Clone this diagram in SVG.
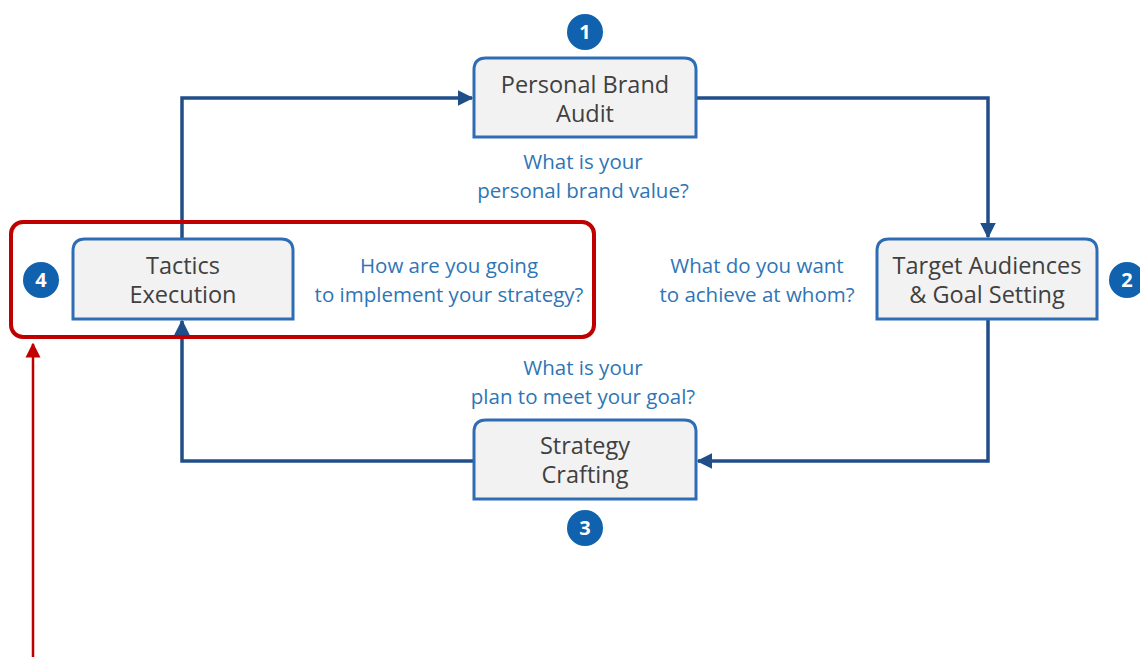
<svg xmlns="http://www.w3.org/2000/svg" width="1140" height="657" viewBox="0 0 1140 657">
<defs>
<style>
.box{fill:#f2f2f2;stroke:#2e6db4;stroke-width:3}
.bt{font-family:"Open Sans","Liberation Sans",sans-serif;font-size:23.5px;fill:#404040;text-anchor:middle}
.q{font-family:"Open Sans","Liberation Sans",sans-serif;font-size:20.5px;fill:#2e75b6;text-anchor:middle}
.num{fill:#1061ae}
.nt{font-family:"Open Sans","Liberation Sans",sans-serif;font-size:20px;font-weight:bold;fill:#ffffff;text-anchor:middle}
.conn{fill:none;stroke:#1f4e89;stroke-width:3.5}
</style>
<marker id="ah" viewBox="0 0 10 10" refX="9" refY="5" markerWidth="4.5" markerHeight="4.5" markerUnits="strokeWidth" orient="auto">
<path d="M0,0 L10,5 L0,10 z" fill="#1f4e89"/>
</marker>
<marker id="rh" viewBox="0 0 10 10" refX="9" refY="5" markerWidth="6" markerHeight="7" markerUnits="strokeWidth" orient="auto">
<path d="M0,0 L10,5 L0,10 z" fill="#c00000"/>
</marker>
</defs>
<rect width="1140" height="657" fill="#ffffff"/>
<g id="connectors">
<path class="conn" d="M182,239 V98 H472" marker-end="url(#ah)"/>
<path class="conn" d="M696,98 H988 V237" marker-end="url(#ah)"/>
<path class="conn" d="M988,319 V461 H698" marker-end="url(#ah)"/>
<path class="conn" d="M474,461 H182 V321" marker-end="url(#ah)"/>
</g>
<g id="node1">
<path class="box" d="M474,137 V70 Q474,58 486,58 H684 Q696,58 696,70 V137 Z"/>
<text class="bt" x="585" y="93">Personal Brand</text>
<text class="bt" x="585" y="122">Audit</text>
<circle class="num" cx="585" cy="32" r="18"/>
<text class="nt" x="585" y="39">1</text>
<text class="q" x="583" y="169">What is your</text>
<text class="q" x="583" y="198">personal brand value?</text>
</g>
<g id="node2">
<path class="box" d="M877,319 V251 Q877,239 889,239 H1085 Q1097,239 1097,251 V319 Z"/>
<text class="bt" x="987" y="274">Target Audiences</text>
<text class="bt" x="987" y="303">&amp; Goal Setting</text>
<circle class="num" cx="1127" cy="280" r="18"/>
<text class="nt" x="1127" y="287">2</text>
<text class="q" x="757" y="273">What do you want</text>
<text class="q" x="757" y="302">to achieve at whom?</text>
</g>
<g id="node3">
<path class="box" d="M474,499 V432 Q474,420 486,420 H684 Q696,420 696,432 V499 Z"/>
<text class="bt" x="585" y="454">Strategy</text>
<text class="bt" x="585" y="483">Crafting</text>
<circle class="num" cx="585" cy="528" r="18"/>
<text class="nt" x="585" y="535">3</text>
<text class="q" x="583" y="375">What is your</text>
<text class="q" x="583" y="404">plan to meet your goal?</text>
</g>
<g id="node4">
<path class="box" d="M73,319 V251 Q73,239 85,239 H281 Q293,239 293,251 V319 Z"/>
<text class="bt" x="183" y="274">Tactics</text>
<text class="bt" x="183" y="303">Execution</text>
<circle class="num" cx="41" cy="280" r="18"/>
<text class="nt" x="41" y="287">4</text>
<text class="q" x="449" y="273">How are you going</text>
<text class="q" x="449" y="302">to implement your strategy?</text>
</g>
<g id="highlight">
<rect x="11" y="222" width="583" height="115" rx="12" fill="none" stroke="#c00000" stroke-width="4"/>
<path d="M33,657 V344" stroke="#c00000" stroke-width="2.5" fill="none" marker-end="url(#rh)"/>
</g>
</svg>
